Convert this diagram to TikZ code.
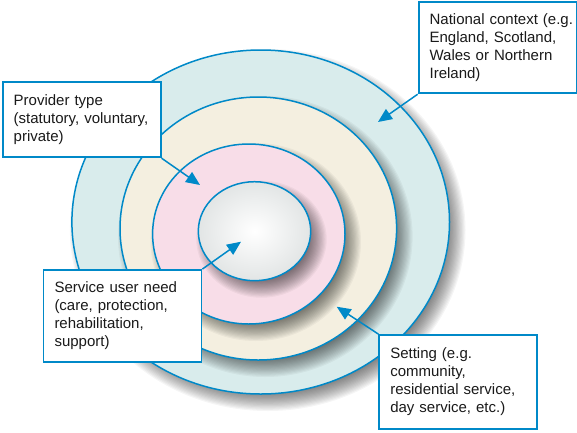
\documentclass[tikz,border=0pt]{standalone}
\usepackage{fontspec}
\setmainfont{Liberation Sans}
\usetikzlibrary{shapes.geometric,arrows.meta}
\definecolor{bl}{RGB}{0,137,200}
\definecolor{natfill}{RGB}{217,236,236}
\definecolor{setfill}{RGB}{244,239,224}
\definecolor{provfill}{RGB}{248,221,232}
\definecolor{neededge}{RGB}{226,229,229}
\definecolor{txt}{RGB}{26,26,26}
\newcommand\mkshadow[4]{%
  \foreach \i in {0,...,15}{%
    \pgfmathsetmacro\shrx{#3+9-\i*1.2}%
    \pgfmathsetmacro\shry{#4+9-\i*1.2}%
    \fill[black, opacity=0.04] ({#1+7},{#2+8}) ellipse [x radius=\shrx pt, y radius=\shry pt];
  }}
\begin{document}
\begin{tikzpicture}[x=1pt,y=-1pt,
  ring/.style={ellipse, draw=bl, line width=1.5pt, inner sep=0pt},
  lbl/.style={rectangle, draw=bl, line width=1.8pt, fill=white, inner xsep=11pt, inner ysep=0pt,
    align=left, text width=136pt, minimum width=158pt,
    font=\fontsize{15}{18}\selectfont, text=txt},
  arr/.style={draw=bl, line width=1.5pt, -{Triangle[length=14pt,width=12pt]}}]
\useasboundingbox (0,0) rectangle (577,432);
% rings with soft shadows
\mkshadow{260.7}{222}{188.8}{172}
\node[ring, fill=natfill, minimum width=377.6pt, minimum height=344pt] (rnat) at (260.7,222) {};
\mkshadow{258.3}{228.5}{138.3}{131.5}
\node[ring, fill=setfill, minimum width=276.6pt, minimum height=263pt] (rset) at (258.3,228.5) {};
\mkshadow{248.8}{234}{96.2}{90}
\node[ring, fill=provfill, minimum width=192.4pt, minimum height=180pt] (rprov) at (248.8,234) {};
\mkshadow{254.5}{231.2}{56.2}{49.5}
\node[ring, shading=radial, inner color=white, outer color=neededge, minimum width=112.4pt, minimum height=99pt] (rneed) at (254.5,231.2) {};
% label boxes
\node[lbl, minimum height=91.6pt] (nat) at (497.6,47.5) {\mbox{National context (e.g.}\\England, Scotland,\\Wales or Northern\\Ireland)};
\node[lbl, minimum height=75.6pt] (prov) at (81.7,119.5) {Provider type\\\mbox{(statutory, voluntary,}\\private)};
\node[lbl, minimum height=91.7pt] (need) at (122.5,315.8) {Service user need\\(care, protection,\\rehabilitation,\\support)};
\node[lbl, minimum height=94pt] (set) at (458.3,382) {Setting (e.g.\\community,\\\mbox{residential service,}\\day service, etc.)};
% arrow tips
\coordinate (tnat) at (378,122);
\coordinate (tprov) at (200,185);
\coordinate (tneed) at (241,241.7);
\coordinate (tset) at (336.7,306.7);
\draw[arr] (nat.south west) -- (tnat);
\draw[arr] (prov.south east) -- (tprov);
\draw[arr] (need.north east) -- (tneed);
\draw[arr] (set.north west) -- (tset);
\end{tikzpicture}
\end{document}
